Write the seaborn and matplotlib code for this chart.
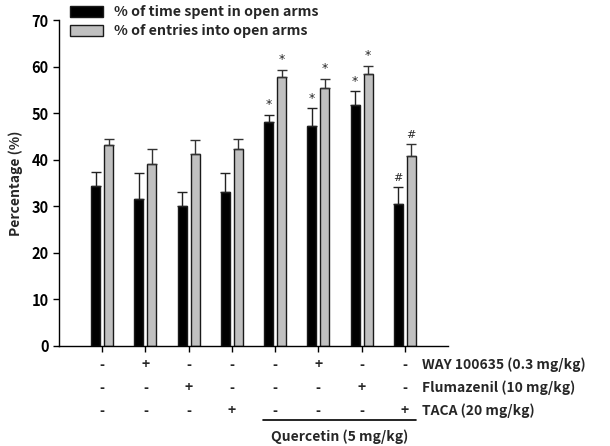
import matplotlib
matplotlib.use("Agg")
import matplotlib.pyplot as plt
import matplotlib.transforms as mtransforms
import numpy as np
import pandas as pd
import seaborn as sns

# ---- data ----
groups = ["Vehicle", "WAY", "Flu", "TACA", "Q", "Q+WAY", "Q+Flu", "Q+TACA"]
time_mean = [34.4, 31.5, 30.0, 33.1, 48.0, 47.2, 51.7, 30.5]
time_err = [3.0, 5.6, 3.1, 4.0, 1.7, 3.8, 3.0, 3.6]
entries_mean = [43.1, 39.1, 41.2, 42.2, 57.8, 55.5, 58.4, 40.7]
entries_err = [1.3, 3.1, 3.0, 2.2, 1.5, 1.8, 1.7, 2.7]
time_sig = ["", "", "", "", "*", "*", "*", "#"]
entries_sig = ["", "", "", "", "*", "*", "*", "#"]
series_names = ["% of time spent in open arms", "% of entries into open arms"]
way = ["-", "+", "-", "-", "-", "+", "-", "-"]
flu = ["-", "-", "+", "-", "-", "-", "+", "-"]
taca = ["-", "-", "-", "+", "-", "-", "-", "+"]
row_labels = ["WAY 100635 (0.3 mg/kg)", "Flumazenil (10 mg/kg)", "TACA (20 mg/kg)"]
quercetin_label = "Quercetin (5 mg/kg)"
yticks = [0, 10, 20, 30, 40, 50, 60, 70]

sns.set_style("ticks")
plt.rcParams["font.family"] = ["Noto Sans CJK KR", "DejaVu Sans"]
plt.rcParams["font.weight"] = "bold"

df = pd.DataFrame({
    "group": groups * 2,
    "value": time_mean + entries_mean,
    "series": [series_names[0]] * len(groups) + [series_names[1]] * len(groups),
})

fig = plt.figure(figsize=(6.1, 4.46), dpi=100)
ax = fig.add_axes([59 / 610, 100 / 446, (448 - 59) / 610, (346 - 20) / 446])

sns.barplot(data=df, x="group", y="value", hue="series", order=groups,
            hue_order=series_names, palette=["#000000", "#c0c0c0"],
            width=0.6, gap=0.3, errorbar=None, edgecolor="#1a1a1a",
            linewidth=1.0, ax=ax, legend=True)

errs = [time_err, entries_err]
sigs = [time_sig, entries_sig]
ecolors = ["#222222", "#333333"]
bar_containers = list(ax.containers)
for k, cont in enumerate(bar_containers):
    xs = [p.get_x() + p.get_width() / 2 for p in cont.patches]
    hs = [p.get_height() for p in cont.patches]
    ax.errorbar(xs, hs, yerr=[np.zeros(len(hs)), errs[k]], fmt="none",
                ecolor=ecolors[k], elinewidth=1.0, capsize=3.5, capthick=1.0,
                zorder=3)
    for x, h, e, s in zip(xs, hs, errs[k], sigs[k]):
        if s:
            ax.text(x, h + e + 0.8, s, ha="center", va="bottom",
                    fontsize=9 if s == "*" else 8, fontweight="normal",
                    family="DejaVu Sans")

ax.set_xlim(-1.0, 8.0)
ax.set_ylim(0, 70)
ax.set_yticks(yticks)
ax.set_yticklabels([str(t) for t in yticks], fontsize=10.5, fontweight="bold")
ax.set_xticklabels([])
ax.set_xlabel("")
ax.set_ylabel("Percentage (%)", fontsize=10, fontweight="bold", labelpad=6)
ax.tick_params(axis="both", direction="out", length=4, width=1, colors="black")
for s in ["top", "right"]:
    ax.spines[s].set_visible(False)
for s in ["left", "bottom"]:
    ax.spines[s].set_linewidth(1.0)
    ax.spines[s].set_color("black")

leg = ax.legend(loc="upper left", bbox_to_anchor=(70 / 610, 1 - 5 / 446),
                bbox_transform=fig.transFigure, frameon=False,
                prop={"size": 10.3, "weight": "bold"}, handlelength=2.3,
                handleheight=0.8, handletextpad=0.75, labelspacing=0.35,
                borderaxespad=0, borderpad=0)

trans = mtransforms.blended_transform_factory(ax.transData, fig.transFigure)
rows = [way, flu, taca]
row_y = [1 - 365 / 446, 1 - 388 / 446, 1 - 411 / 446]
for r, vals in enumerate(rows):
    for i, v in enumerate(vals):
        ax.text(i, row_y[r], v, transform=trans, ha="center", va="center",
                fontsize=10, fontweight="bold", clip_on=False)
    ax.text(7.4, row_y[r], row_labels[r], transform=trans, ha="left",
            va="center", fontsize=10, fontweight="bold", clip_on=False)

ax.plot([3.73, 7.26], [1 - 420 / 446] * 2, transform=trans, color="black",
        lw=1.2, clip_on=False)
ax.text(5.5, 1 - 437 / 446, quercetin_label, transform=trans, ha="center",
        va="center", fontsize=10, fontweight="bold", clip_on=False)

fig.savefig("out.png", dpi=100)
